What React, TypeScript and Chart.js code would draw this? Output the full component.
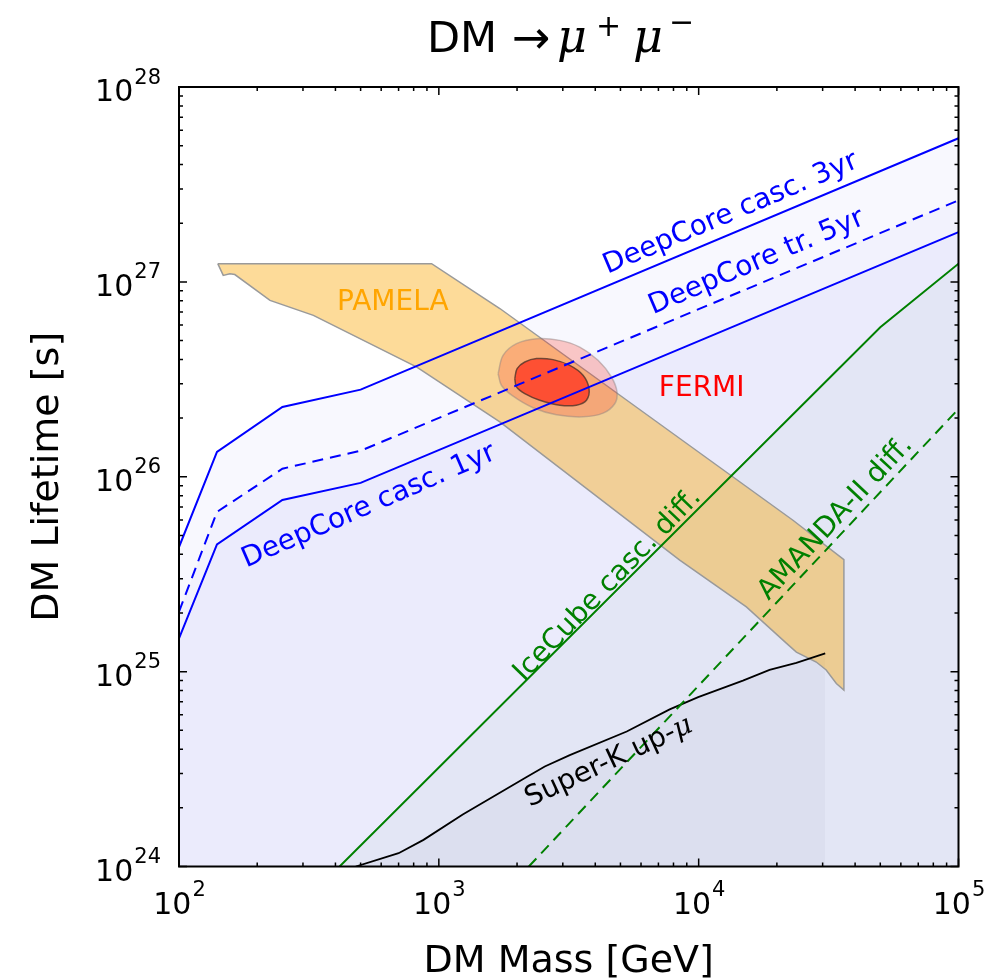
import React, { useEffect, useRef } from 'react';
import { Chart, registerables } from 'chart.js';

Chart.register(...registerables);

// ---------------- data (DM mass [GeV], DM lifetime [s]) ----------------
const deepCoreMass = [100, 140, 250, 500, 100000];
const deepCoreCasc3yr = [4.36e25, 1.34e26, 2.28e26, 2.8e26, 5.46e27];
const deepCoreTr5yr = [2.03e25, 6.6e25, 1.1e26, 1.36e26, 2.62e27];
const deepCoreCasc1yr = [1.48e25, 4.5e25, 7.6e25, 9.3e25, 1.8e27];

const iceCubeMass = [415, 50000, 100000];
const iceCubeLifetime = [1e24, 5.85e26, 1.24e27];

const amandaMass = [2220, 100000];
const amandaLifetime = [1e24, 2.23e26];

const superKMass = [479, 700, 873, 1236, 2178, 2557, 3191, 5286, 7734, 9956, 14800, 18740, 23760, 30700];
const superKLifetime = [1e24, 1.17e24, 1.37e24, 1.85e24, 2.88e24, 3.26e24, 3.73e24, 4.93e24, 6.4e24, 7.4e24, 9.0e24, 1.02e25, 1.11e25, 1.24e25];

const pamelaMass = [141, 938, 1717, 23060, 36220, 36220, 33870, 30960, 28350, 23770, 21740, 15260, 8455, 1717, 820, 329, 224, 164, 157, 148];
const pamelaLifetime = [1.24e27, 1.24e27, 7.3e26, 5.98e25, 3.76e25, 8.04e24, 8.69e24, 1.02e25, 1.12e25, 1.26e25, 1.4e25, 2.15e25, 3.73e25, 1.91e26, 3.66e26, 6.73e26, 8.04e26, 1.09e27, 1.1e27, 1.08e27];

const fermiOuterMass = [1691, 1767, 1990, 2376, 2920, 3486, 4100, 4616, 4851, 4753, 4285, 3589, 2836, 2305, 1931, 1743];
const fermiOuterLifetime = [3.38e26, 4.2e26, 4.82e26, 5.11e26, 5.01e26, 4.63e26, 3.96e26, 3.25e26, 2.72e26, 2.37e26, 2.12e26, 2.03e26, 2.08e26, 2.26e26, 2.59e26, 2.94e26];

const fermiInnerMass = [1960, 2001, 2142, 2376, 2752, 3191, 3589, 3785, 3700, 3384, 2920, 2446, 2142, 1990];
const fermiInnerLifetime = [3.19e26, 3.59e26, 3.88e26, 4.04e26, 3.99e26, 3.73e26, 3.32e26, 2.83e26, 2.47e26, 2.33e26, 2.33e26, 2.47e26, 2.67e26, 2.89e26];

// axis ticks
const xMajorTicks = [1e2, 1e3, 1e4, 1e5];
const xTickExponents = ['2', '3', '4', '5'];
const yMajorTicks = [1e24, 1e25, 1e26, 1e27, 1e28];
const yTickExponents = ['24', '25', '26', '27', '28'];
const minorMultipliers = [2, 3, 4, 5, 6, 7, 8, 9];

// text annotations anchored in data coordinates
const annotations = [
  { text: 'PAMELA', suffix: '', mass: 665, lifetime: 7.85e26, angle: 0, color: '#ffa500' },
  { text: 'FERMI', suffix: '', mass: 10270, lifetime: 2.82e26, angle: 0, color: '#ff0000' },
  { text: 'DeepCore casc. 3yr', suffix: '', mass: 13280, lifetime: 2.24e27, angle: 23, color: '#0000ff' },
  { text: 'DeepCore tr. 5yr', suffix: '', mass: 16710, lifetime: 1.26e27, angle: 23, color: '#0000ff' },
  { text: 'DeepCore casc. 1yr', suffix: '', mass: 538, lifetime: 7.06e25, angle: 23.5, color: '#0000ff' },
  { text: 'IceCube casc. diff.', suffix: '', mass: 4470, lifetime: 2.78e25, angle: 46, color: '#008000' },
  { text: 'AMANDA-II diff.', suffix: '', mass: 33650, lifetime: 6.12e25, angle: 47, color: '#008000' },
  { text: 'Super-K up-', suffix: 'μ', mass: 4510, lifetime: 3.43e24, angle: 25, color: '#000000' },
];

// ---------------- helpers ----------------
const pts = (xs: number[], ys: number[]) => xs.map((x, i) => ({ x, y: ys[i] }));
const closed = (xs: number[], ys: number[]) => {
  const p = pts(xs, ys);
  return [...p, p[0]];
};

const SANS = '"DejaVu Sans", sans-serif';
const TRANSPARENT = 'rgba(0,0,0,0)';
const base = { pointRadius: 0, pointHoverRadius: 0, tension: 0 };

const lineSet = (label: string, xs: number[], ys: number[], color: string, dash: number[] = []) => ({
  ...base,
  label,
  data: pts(xs, ys),
  borderColor: color,
  borderWidth: 2,
  borderDash: dash,
  fill: false,
  order: 1,
});

const fillSet = (label: string, xs: number[], ys: number[], color: string, order: number) => ({
  ...base,
  label,
  data: pts(xs, ys),
  borderColor: TRANSPARENT,
  borderWidth: 0,
  backgroundColor: color,
  fill: 'start',
  order,
});

const datasets: any[] = [
  lineSet('DeepCore casc. 3yr', deepCoreMass, deepCoreCasc3yr, '#0000ff'),
  lineSet('DeepCore tr. 5yr', deepCoreMass, deepCoreTr5yr, '#0000ff', [11, 7]),
  lineSet('DeepCore casc. 1yr', deepCoreMass, deepCoreCasc1yr, '#0000ff'),
  lineSet('IceCube casc. diff.', iceCubeMass, iceCubeLifetime, '#008000'),
  lineSet('AMANDA-II diff.', amandaMass, amandaLifetime, '#008000', [11, 7]),
  { ...lineSet('Super-K up-mu', superKMass, superKLifetime, '#000000'), borderWidth: 1.8 },
  {
    ...base,
    label: 'FERMI inner',
    data: closed(fermiInnerMass, fermiInnerLifetime),
    fill: 'shape',
    tension: 0.35,
    backgroundColor: 'rgba(255,45,25,0.72)',
    borderColor: 'rgba(70,50,40,0.75)',
    borderWidth: 1.5,
    order: 2,
  },
  {
    ...base,
    label: 'FERMI outer',
    data: closed(fermiOuterMass, fermiOuterLifetime),
    fill: 'shape',
    tension: 0.35,
    backgroundColor: 'rgba(255,40,20,0.24)',
    borderColor: 'rgba(140,130,130,0.45)',
    borderWidth: 1.5,
    order: 3,
  },
  {
    ...base,
    label: 'PAMELA',
    data: closed(pamelaMass, pamelaLifetime),
    fill: 'shape',
    backgroundColor: 'rgba(250,165,0,0.4)',
    borderColor: '#9a9a9a',
    borderWidth: 1.5,
    order: 4,
  },
  fillSet('Super-K fill', superKMass, superKLifetime, 'rgba(40,40,70,0.03)', 5),
  fillSet('IceCube fill', iceCubeMass, iceCubeLifetime, 'rgba(0,90,30,0.03)', 6),
  fillSet('DeepCore 1yr fill', deepCoreMass, deepCoreCasc1yr, 'rgba(20,20,220,0.03)', 7),
  fillSet('DeepCore 5yr fill', deepCoreMass, deepCoreTr5yr, 'rgba(20,20,220,0.025)', 8),
  fillSet('DeepCore 3yr fill', deepCoreMass, deepCoreCasc3yr, 'rgba(20,20,220,0.03)', 9),
];

// ---------------- overlay plugin: frame, ticks, texts ----------------
const overlay = {
  id: 'overlay',
  beforeDraw(chart: any) {
    const { ctx, width, height } = chart;
    ctx.save();
    ctx.fillStyle = '#ffffff';
    ctx.fillRect(0, 0, width, height);
    ctx.restore();
  },
  afterDatasetsDraw(chart: any) {
    const { ctx, chartArea: a, scales } = chart;
    const xs = scales.x;
    const ys = scales.y;

    // annotations
    for (const an of annotations) {
      const px = xs.getPixelForValue(an.mass);
      const py = ys.getPixelForValue(an.lifetime);
      ctx.save();
      ctx.translate(px, py);
      ctx.rotate((-an.angle * Math.PI) / 180);
      ctx.fillStyle = an.color;
      ctx.textBaseline = 'middle';
      ctx.textAlign = 'left';
      ctx.font = `28px ${SANS}`;
      const w1 = ctx.measureText(an.text).width;
      let w2 = 0;
      const sufFont = 'italic 28px "DejaVu Serif", serif';
      if (an.suffix) {
        ctx.font = sufFont;
        w2 = ctx.measureText(an.suffix).width;
      }
      const x0 = -(w1 + w2) / 2;
      ctx.font = `28px ${SANS}`;
      ctx.fillText(an.text, x0, 0);
      if (an.suffix) {
        ctx.font = sufFont;
        ctx.fillText(an.suffix, x0 + w1, 0);
      }
      ctx.restore();
    }

    // frame
    ctx.save();
    ctx.strokeStyle = '#000';
    ctx.lineWidth = 2;
    ctx.strokeRect(a.left, a.top, a.right - a.left, a.bottom - a.top);

    // ticks (inward, all four sides)
    ctx.lineWidth = 1.5;
    const tickX = (v: number, len: number) => {
      const p = xs.getPixelForValue(v);
      ctx.beginPath();
      ctx.moveTo(p, a.bottom);
      ctx.lineTo(p, a.bottom - len);
      ctx.moveTo(p, a.top);
      ctx.lineTo(p, a.top + len);
      ctx.stroke();
    };
    const tickY = (v: number, len: number) => {
      const p = ys.getPixelForValue(v);
      ctx.beginPath();
      ctx.moveTo(a.left, p);
      ctx.lineTo(a.left + len, p);
      ctx.moveTo(a.right, p);
      ctx.lineTo(a.right - len, p);
      ctx.stroke();
    };
    xMajorTicks.forEach((v) => tickX(v, 8));
    xMajorTicks.slice(0, -1).forEach((v) => minorMultipliers.forEach((m) => tickX(v * m, 4)));
    yMajorTicks.forEach((v) => tickY(v, 8));
    yMajorTicks.slice(0, -1).forEach((v) => minorMultipliers.forEach((m) => tickY(v * m, 4)));
    ctx.restore();
  },
  afterDraw(chart: any) {
    const { ctx, chartArea: a, scales } = chart;
    const xs = scales.x;
    const ys = scales.y;
    ctx.save();
    ctx.fillStyle = '#000';
    ctx.textBaseline = 'alphabetic';
    ctx.textAlign = 'left';
    const baseFont = `30px ${SANS}`;
    const supFont = `21px ${SANS}`;

    // x tick labels
    xMajorTicks.forEach((v, i) => {
      const p = xs.getPixelForValue(v);
      ctx.font = baseFont;
      const wb = ctx.measureText('10').width;
      ctx.font = supFont;
      const ws = ctx.measureText(xTickExponents[i]).width;
      const x0 = p - (wb + ws) / 2;
      ctx.font = baseFont;
      ctx.fillText('10', x0, a.bottom + 47);
      ctx.font = supFont;
      ctx.fillText(xTickExponents[i], x0 + wb + 1, a.bottom + 29);
    });

    // y tick labels
    yMajorTicks.forEach((v, i) => {
      const p = ys.getPixelForValue(v);
      ctx.font = baseFont;
      const wb = ctx.measureText('10').width;
      ctx.font = supFont;
      const ws = ctx.measureText(yTickExponents[i]).width;
      const xr = a.left - 18;
      const x0 = xr - ws - wb - 1;
      ctx.font = baseFont;
      ctx.fillText('10', x0, p + 14);
      ctx.font = supFont;
      ctx.fillText(yTickExponents[i], x0 + wb + 1, p - 3.5);
    });

    // axis titles
    ctx.font = `38px ${SANS}`;
    ctx.textAlign = 'center';
    ctx.fillText('DM Mass [GeV]', (a.left + a.right) / 2, 972);
    ctx.save();
    ctx.translate(58, (a.top + a.bottom) / 2);
    ctx.rotate(-Math.PI / 2);
    ctx.fillText('DM Lifetime [s]', 0, 0);
    ctx.restore();

    // title: DM -> mu+ mu-
    ctx.textAlign = 'left';
    ctx.font = `43px ${SANS}`;
    ctx.fillText('DM', 427, 52);
    ctx.font = `46px ${SANS}`;
    ctx.fillText('→', 512, 53);
    ctx.font = 'italic 46px "DejaVu Serif", serif';
    ctx.fillText('μ', 557, 52);
    ctx.font = `30px ${SANS}`;
    ctx.fillText('+', 596, 36);
    ctx.font = 'italic 46px "DejaVu Serif", serif';
    ctx.fillText('μ', 633, 52);
    ctx.font = `30px ${SANS}`;
    ctx.fillText('−', 669, 32);
    ctx.restore();
  },
};

export default function App() {
  const ref = useRef<HTMLCanvasElement>(null);
  useEffect(() => {
    const canvas = ref.current;
    if (!canvas) return;
    const chart = new Chart(canvas, {
      type: 'line',
      data: { datasets },
      options: {
        responsive: false,
        animation: false,
        devicePixelRatio: 1,
        events: [],
        layout: { padding: { left: 179, top: 87, right: 31.5, bottom: 112.5 } },
        plugins: { legend: { display: false }, tooltip: { enabled: false } },
        scales: {
          x: { type: 'logarithmic', min: 100, max: 100000, display: false },
          y: { type: 'logarithmic', min: 1e24, max: 1e28, display: false },
        },
      } as any,
      plugins: [overlay],
    });
    return () => chart.destroy();
  }, []);
  return (
    <div style={{ position: 'fixed', left: 0, top: 0, width: 990, height: 979, background: '#ffffff' }}>
      <canvas ref={ref} width={990} height={979} style={{ display: 'block', width: 990, height: 979 }} />
    </div>
  );
}
